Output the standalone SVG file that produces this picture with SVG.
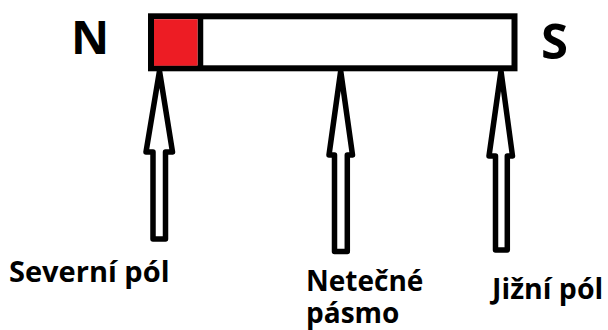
<svg xmlns="http://www.w3.org/2000/svg" width="608" height="330" viewBox="0 0 608 330">
<style>
.lbl{font-family:"Open Sans","Liberation Sans",sans-serif;font-weight:bold;fill:#000}
.arr{fill:#fff;stroke:#000;stroke-width:5.5;stroke-linejoin:round}
</style>
<rect width="608" height="330" fill="#fff"/>
<g id="magnet">
<rect x="151" y="16.3" width="363.5" height="52" fill="#fff" stroke="#000" stroke-width="6"/>
<rect x="154" y="19.3" width="43.7" height="46.4" fill="#ed1c24"/>
<line x1="200.5" y1="16.3" x2="200.5" y2="68.3" stroke="#000" stroke-width="5.5"/>
</g>
<g id="pole-N"><text class="lbl" x="71" y="54.3" font-size="47">N</text></g>
<g id="pole-S"><text class="lbl" x="541" y="58.5" font-size="49">S</text></g>
<g id="connectors">
<polygon class="arr" points="159.5,71 172.5,152 165.5,152 165.5,239 153,239 153,152 146,152"/>
<polygon class="arr" points="340.7,71 352.5,155 347.3,155 347.3,251.5 334.5,251.5 334.5,155 329,155"/>
<polygon class="arr" points="501,71 512.5,156 507.3,156 507.3,250 495.5,250 495.5,156 489,156"/>
</g>
<g id="label-severni"><text class="lbl" x="9" y="281.7" font-size="29">Severní pól</text></g>
<g id="label-netecne"><text class="lbl" font-size="28"><tspan x="306" y="290.5">Netečné</tspan><tspan x="306" y="322.5">pásmo</tspan></text></g>
<g id="label-jizni"><text class="lbl" x="492" y="299.3" font-size="28.5">Jižní pól</text></g>
</svg>
